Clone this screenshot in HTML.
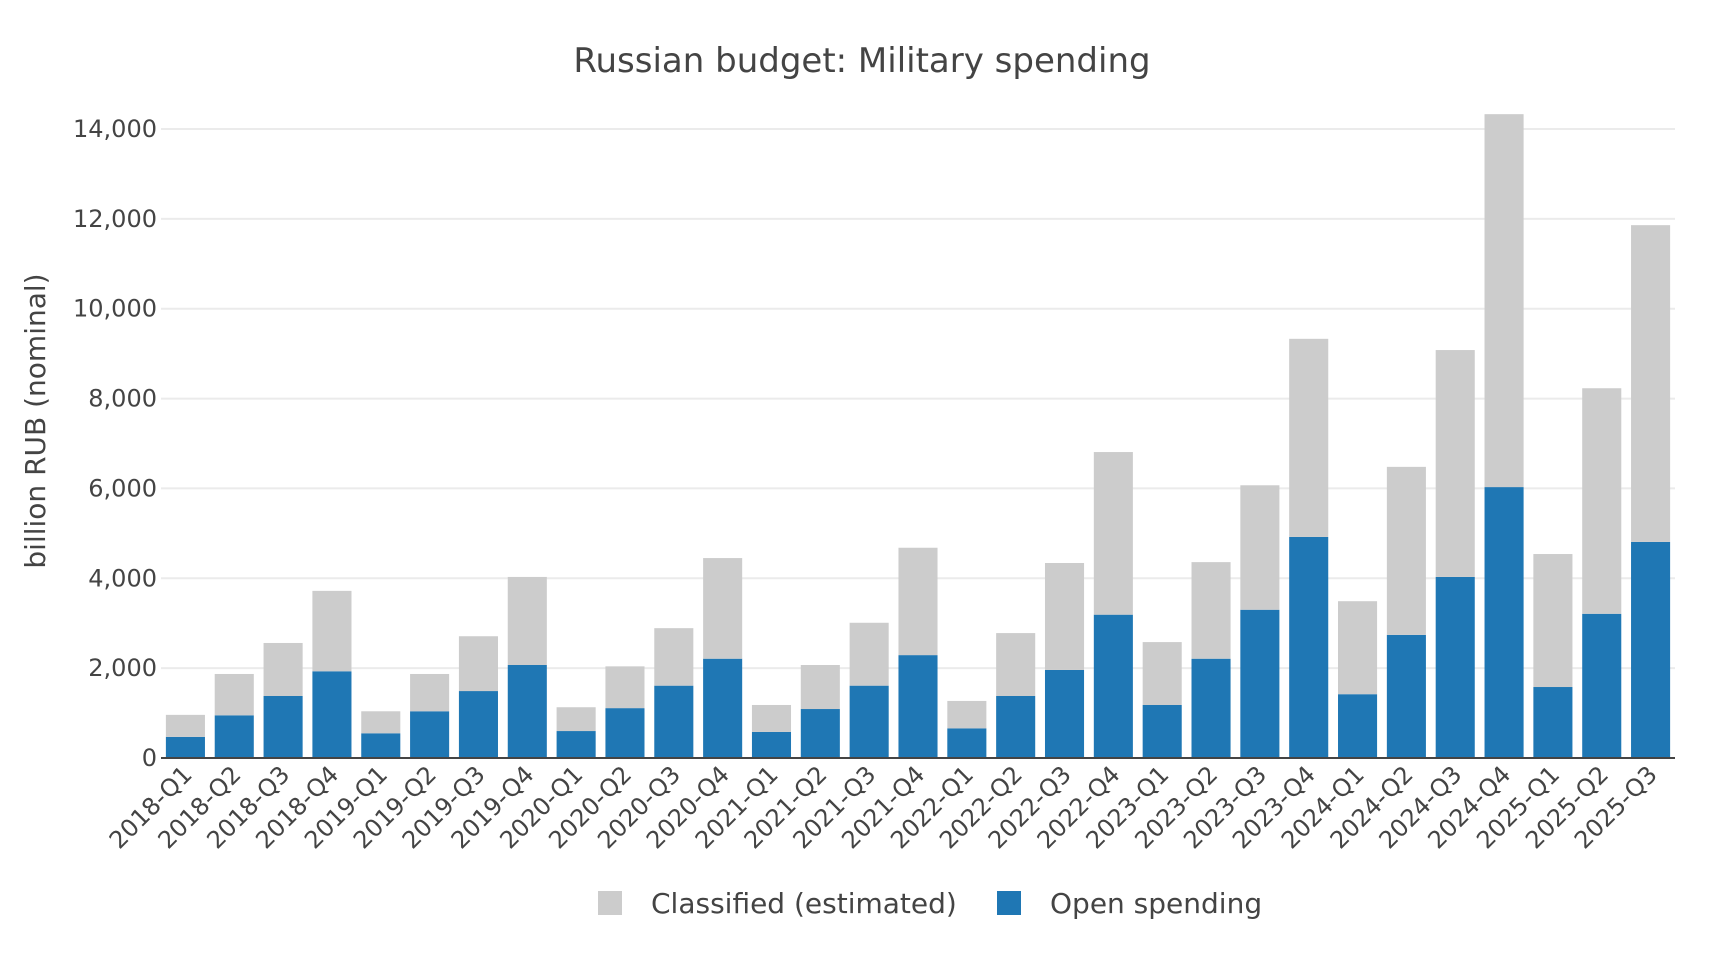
<!DOCTYPE html>
<html><head><meta charset="utf-8"><style>
html,body{margin:0;padding:0;background:#fff;}
svg text{font-family:"DejaVu Sans","Liberation Sans",sans-serif;fill:#444;}
</style></head><body>
<svg id="chart" width="1716" height="962" xmlns="http://www.w3.org/2000/svg">
<text x="862" y="72" text-anchor="middle" font-size="34">Russian budget: Military spending</text>
<g id="grid"></g><g id="bars"></g><g id="xticks"></g><g id="yticks"></g>
<text transform="translate(45,421) rotate(-90)" text-anchor="middle" font-size="28">billion RUB (nominal)</text>
<g>
<rect x="598" y="891" width="24" height="24" fill="#cccccc"/>
<text x="651" y="913" font-size="28">Classified (estimated)</text>
<rect x="997" y="891" width="24" height="24" fill="#1f77b4"/>
<text x="1050" y="913" font-size="28">Open spending</text>
</g>
</svg>
<script>
const categories=["2018-Q1","2018-Q2","2018-Q3","2018-Q4","2019-Q1","2019-Q2","2019-Q3","2019-Q4","2020-Q1","2020-Q2","2020-Q3","2020-Q4","2021-Q1","2021-Q2","2021-Q3","2021-Q4","2022-Q1","2022-Q2","2022-Q3","2022-Q4","2023-Q1","2023-Q2","2023-Q3","2023-Q4","2024-Q1","2024-Q2","2024-Q3","2024-Q4","2025-Q1","2025-Q2","2025-Q3"];
const openSpending=[470,950,1380,1930,550,1040,1490,2070,600,1110,1610,2210,580,1090,1610,2290,660,1380,1960,3190,1180,2210,3300,4920,1420,2740,4030,6030,1580,3210,4810];
const classified=[490,920,1180,1790,490,830,1220,1960,530,930,1280,2240,600,980,1400,2390,610,1400,2380,3620,1400,2150,2770,4410,2070,3740,5050,8300,2960,5020,7050];
const yTicks=[0,2000,4000,6000,8000,10000,12000,14000];
const yTickLabels=["0","2,000","4,000","6,000","8,000","10,000","12,000","14,000"];
const NS="http://www.w3.org/2000/svg";
const L=161,R=1675,Y0=758,Ytop=129,VMAX=14000;
const band=(R-L)/categories.length,bw=band*0.8;
function y(v){return Y0-(v/VMAX)*(Y0-Ytop);}
function x(i){return L+band*(i+0.5);}
function mk(tag,attrs,parent){const e=document.createElementNS(NS,tag);for(const k in attrs)e.setAttribute(k,attrs[k]);parent.appendChild(e);return e;}
const grid=document.getElementById('grid'),bars=document.getElementById('bars'),xt=document.getElementById('xticks'),yt=document.getElementById('yticks');
yTicks.forEach((v,i)=>{
 if(v>0){const g=mk('line',{x1:L,x2:R,y1:y(v),y2:y(v),stroke:'#ebebeb','stroke-width':2},grid);
 
 }
 const t=mk('text',{x:L-4,y:y(v)+8,'text-anchor':'end','font-size':24},yt);
 
 
 t.textContent=yTickLabels[i];
});
categories.forEach((c,i)=>{
 const o=mk('rect',{x:x(i)-bw/2,y:y(openSpending[i]),width:bw,height:Y0-y(openSpending[i]),fill:'#1f77b4'},bars);
 
 
 const top=openSpending[i]+classified[i];
 const cl=mk('rect',{x:x(i)-bw/2,y:y(top),width:bw,height:y(openSpending[i])-y(top),fill:'#cccccc'},bars);
 
 
 const t=mk('text',{transform:'translate('+(x(i)+8)+','+(Y0+18)+') rotate(-45)','text-anchor':'end','font-size':24},xt);
 
 
 t.textContent=c;
});
const ax=mk('line',{x1:L,x2:R,y1:Y0,y2:Y0,stroke:'#444','stroke-width':2},grid.parentNode);


</script>
</body></html>
